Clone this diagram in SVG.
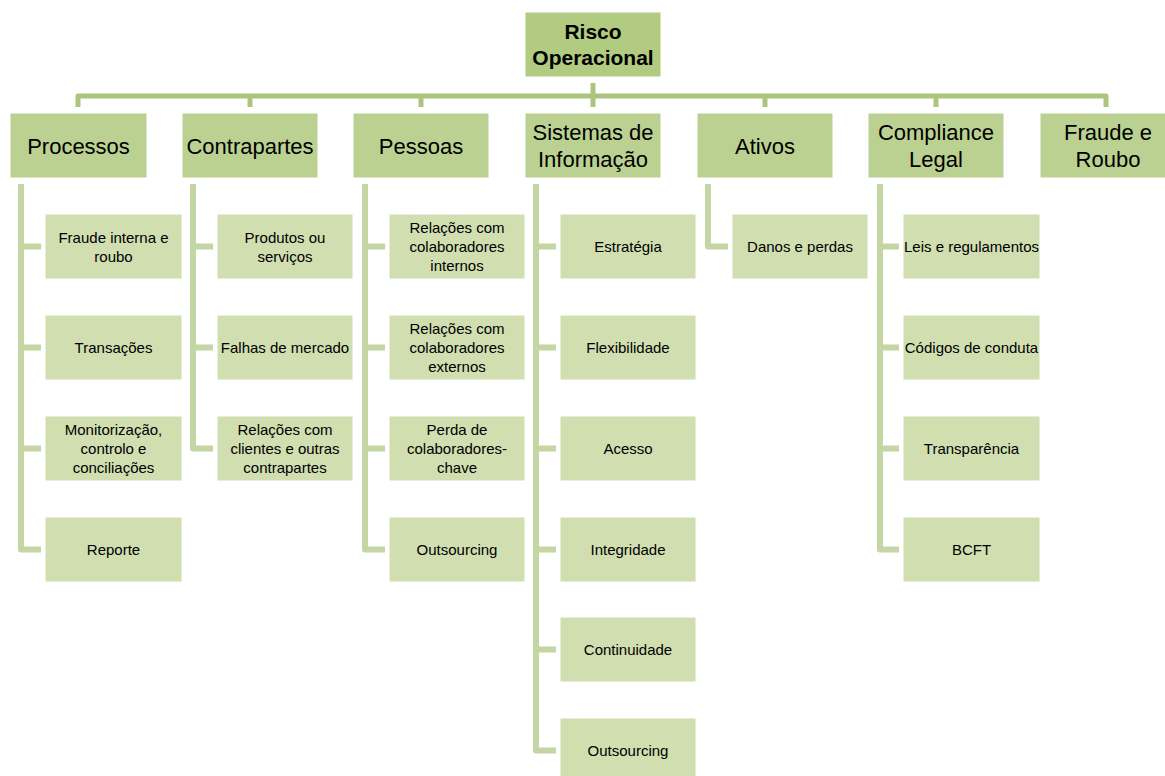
<svg xmlns="http://www.w3.org/2000/svg" width="1165" height="776" viewBox="0 0 1165 776">
<style>
.root{fill:#B1CB80;stroke:#ffffff;stroke-width:1}
.l1{fill:#BBD192;stroke:#ffffff;stroke-width:1}
.l2{fill:#D0DEB0;stroke:#ffffff;stroke-width:1}
.top{fill:none;stroke:#ABC67C;stroke-width:5;stroke-linejoin:round}
.sub{fill:none;stroke:#C4D6A3;stroke-width:6;stroke-linejoin:round}
text{font-family:"Liberation Sans",Arial,sans-serif;fill:#000;text-anchor:middle}
.t0{font-size:21px;font-weight:bold}
.t1{font-size:22px}
.t2{font-size:15px}
</style>
<g id="connectors">
<path class="top" d="M78,107 V96 H1106 V107"/>
<path class="top" d="M250,96 V107 M421,96 V107 M765,96 V107 M936,96 V107 M593,83 V107"/>
<path class="sub" d="M21,184 V549.5 H41 M21,246.5 H41 M21,347.5 H41 M21,448.5 H41"/>
<path class="sub" d="M193,184 V448.5 H213 M193,246.5 H213 M193,347.5 H213"/>
<path class="sub" d="M365,184 V549.5 H385 M365,246.5 H385 M365,347.5 H385 M365,448.5 H385"/>
<path class="sub" d="M536,184 V750.5 H556 M536,246.5 H556 M536,347.5 H556 M536,448.5 H556 M536,549.5 H556 M536,649.5 H556"/>
<path class="sub" d="M708,184 V246.5 H728"/>
<path class="sub" d="M880,184 V549.5 H899 M880,246.5 H899 M880,347.5 H899 M880,448.5 H899"/>
</g>
<g id="root"><rect class="root" x="525" y="12" width="136" height="65"/><text class="t0" x="593" y="39">Risco</text><text class="t0" x="593" y="65">Operacional</text></g>
<g id="processos"><rect class="l1" x="10" y="113" width="137" height="65"/><text class="t1" x="78.5" y="154">Processos</text></g>
<g id="contrapartes"><rect class="l1" x="182" y="113" width="136" height="65"/><text class="t1" x="250" y="154">Contrapartes</text></g>
<g id="pessoas"><rect class="l1" x="353" y="113" width="136" height="65"/><text class="t1" x="421" y="154">Pessoas</text></g>
<g id="sistemas"><rect class="l1" x="525" y="113" width="136" height="65"/><text class="t1" x="593" y="140">Sistemas de</text><text class="t1" x="593" y="167">Informação</text></g>
<g id="ativos"><rect class="l1" x="697" y="113" width="136" height="65"/><text class="t1" x="765" y="154">Ativos</text></g>
<g id="compliance"><rect class="l1" x="868" y="113" width="136" height="65"/><text class="t1" x="936" y="140">Compliance</text><text class="t1" x="936" y="167">Legal</text></g>
<g id="fraude-roubo"><rect class="l1" x="1040" y="113" width="136" height="65"/><text class="t1" x="1108" y="140">Fraude e</text><text class="t1" x="1108" y="167">Roubo</text></g>

<g id="p1"><rect class="l2" x="45" y="214" width="137" height="65"/><text class="t2" x="113.5" y="242.5">Fraude interna e</text><text class="t2" x="113.5" y="261.5">roubo</text></g>
<g id="p2"><rect class="l2" x="45" y="315" width="137" height="65"/><text class="t2" x="113.5" y="353">Transações</text></g>
<g id="p3"><rect class="l2" x="45" y="416" width="137" height="65"/><text class="t2" x="113.5" y="435">Monitorização,</text><text class="t2" x="113.5" y="454">controlo e</text><text class="t2" x="113.5" y="473">conciliações</text></g>
<g id="p4"><rect class="l2" x="45" y="517" width="137" height="65"/><text class="t2" x="113.5" y="555">Reporte</text></g>

<g id="c1"><rect class="l2" x="217" y="214" width="136" height="65"/><text class="t2" x="285" y="242.5">Produtos ou</text><text class="t2" x="285" y="261.5">serviços</text></g>
<g id="c2"><rect class="l2" x="217" y="315" width="136" height="65"/><text class="t2" x="285" y="353">Falhas de mercado</text></g>
<g id="c3"><rect class="l2" x="217" y="416" width="136" height="65"/><text class="t2" x="285" y="435">Relações com</text><text class="t2" x="285" y="454">clientes e outras</text><text class="t2" x="285" y="473">contrapartes</text></g>

<g id="pe1"><rect class="l2" x="389" y="214" width="136" height="65"/><text class="t2" x="457" y="233">Relações com</text><text class="t2" x="457" y="252">colaboradores</text><text class="t2" x="457" y="271">internos</text></g>
<g id="pe2"><rect class="l2" x="389" y="315" width="136" height="65"/><text class="t2" x="457" y="334">Relações com</text><text class="t2" x="457" y="353">colaboradores</text><text class="t2" x="457" y="372">externos</text></g>
<g id="pe3"><rect class="l2" x="389" y="416" width="136" height="65"/><text class="t2" x="457" y="435">Perda de</text><text class="t2" x="457" y="454">colaboradores-</text><text class="t2" x="457" y="473">chave</text></g>
<g id="pe4"><rect class="l2" x="389" y="517" width="136" height="65"/><text class="t2" x="457" y="555">Outsourcing</text></g>

<g id="s1"><rect class="l2" x="560" y="214" width="136" height="65"/><text class="t2" x="628" y="252">Estratégia</text></g>
<g id="s2"><rect class="l2" x="560" y="315" width="136" height="65"/><text class="t2" x="628" y="353">Flexibilidade</text></g>
<g id="s3"><rect class="l2" x="560" y="416" width="136" height="65"/><text class="t2" x="628" y="454">Acesso</text></g>
<g id="s4"><rect class="l2" x="560" y="517" width="136" height="65"/><text class="t2" x="628" y="555">Integridade</text></g>
<g id="s5"><rect class="l2" x="560" y="617" width="136" height="65"/><text class="t2" x="628" y="655">Continuidade</text></g>
<g id="s6"><rect class="l2" x="560" y="718" width="136" height="65"/><text class="t2" x="628" y="756">Outsourcing</text></g>

<g id="a1"><rect class="l2" x="732" y="214" width="136" height="65"/><text class="t2" x="800" y="252">Danos e perdas</text></g>

<g id="co1"><rect class="l2" x="903" y="214" width="137" height="65"/><text class="t2" x="971.5" y="252">Leis e regulamentos</text></g>
<g id="co2"><rect class="l2" x="903" y="315" width="137" height="65"/><text class="t2" x="971.5" y="353">Códigos de conduta</text></g>
<g id="co3"><rect class="l2" x="903" y="416" width="137" height="65"/><text class="t2" x="971.5" y="454">Transparência</text></g>
<g id="co4"><rect class="l2" x="903" y="517" width="137" height="65"/><text class="t2" x="971.5" y="555">BCFT</text></g>
</svg>
